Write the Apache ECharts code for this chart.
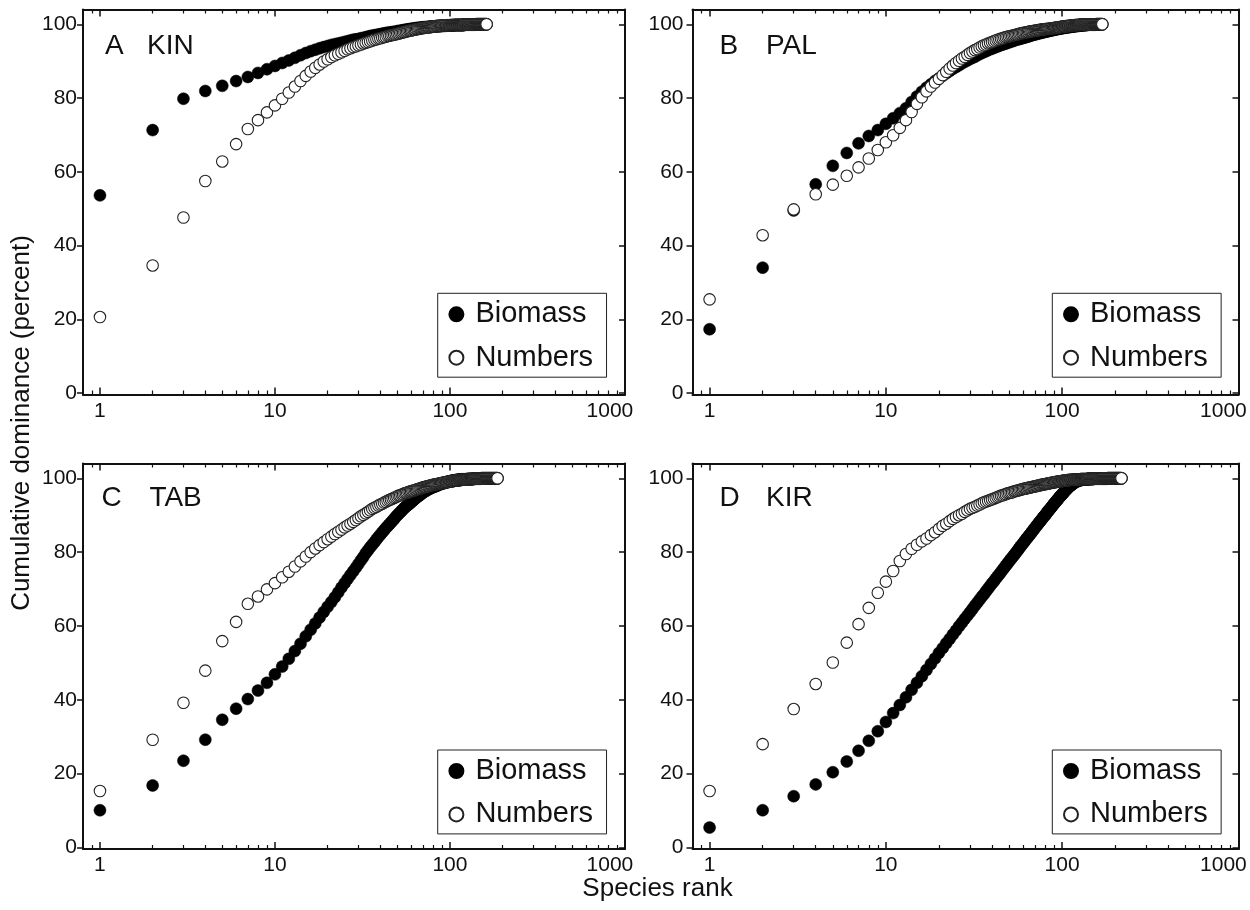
<!DOCTYPE html>
<html><head><meta charset="utf-8">
<script src="https://cdn.jsdelivr.net/npm/echarts@6/dist/echarts.min.js"></script>
<style>html,body{margin:0;padding:0;background:#fff}#c{width:1250px;height:910px}</style>
</head><body><div id="c"></div>
<script>
// ---------------- data ----------------
const panelLetters = ['A', 'B', 'C', 'D'];
const siteNames = ['KIN', 'PAL', 'TAB', 'KIR'];
const seriesNames = ['Biomass', 'Numbers'];
const xTickValues = [1, 10, 100, 1000];
const xTickLabels = ['1', '10', '100', '1000'];
const xMinorTickValues = [0.9, 2, 3, 4, 5, 6, 7, 8, 9, 20, 30, 40, 50, 60, 70, 80, 90, 200, 300, 400, 500, 600, 700, 800, 900];
const yTickValues = [0, 20, 40, 60, 80, 100];
const yTickLabels = ['0', '20', '40', '60', '80', '100'];
const xTitle = 'Species rank';
const yTitle = 'Cumulative dominance (percent)';

// cumulative dominance (%) for species rank 1..N
const kinBiomass = [53.6,71.3,79.8,81.9,83.3,84.6,85.7,86.8,87.8,88.7,
89.5,90.2,90.9,91.6,92.2,92.7,93.1,93.5,93.8,94.1,
94.4,94.6,94.8,95.0,95.2,95.4,95.6,95.8,95.9,96.0,
96.2,96.3,96.5,96.6,96.8,96.9,97.0,97.1,97.2,97.3,
97.4,97.5,97.6,97.7,97.7,97.8,97.9,97.9,98.0,98.1,
98.2,98.2,98.3,98.4,98.4,98.5,98.6,98.6,98.7,98.7,
98.8,98.8,98.9,98.9,99.0,99.0,99.0,99.1,99.1,99.1,
99.2,99.2,99.2,99.2,99.3,99.3,99.3,99.3,99.4,99.4,
99.4,99.4,99.4,99.5,99.5,99.5,99.5,99.5,99.5,99.6,
99.6,99.6,99.6,99.6,99.6,99.7,99.7,99.7,99.7,99.7,
99.7,99.7,99.7,99.7,99.7,99.8,99.8,99.8,99.8,99.8,
99.8,99.8,99.8,99.8,99.8,99.8,99.8,99.8,99.8,99.8,
99.9,99.9,99.9,99.9,99.9,99.9,99.9,99.9,99.9,99.9,
99.9,99.9,99.9,99.9,99.9,99.9,99.9,99.9,99.9,99.9,
100,100,100,100,100,100,100,100,100,100,
100,100,100,100,100,100,100,100,100,100,
100,100];
const kinNumbers = [20.6,34.6,47.6,57.5,62.8,67.5,71.6,74.0,76.1,78.0,
79.8,81.5,83.1,84.6,86.0,87.2,88.2,89.1,89.9,90.5,
91.1,91.6,92.0,92.4,92.8,93.2,93.5,93.8,94.0,94.3,
94.5,94.8,95.0,95.2,95.4,95.6,95.8,95.9,96.1,96.2,
96.4,96.5,96.6,96.8,96.9,97.0,97.1,97.2,97.3,97.4,
97.5,97.6,97.7,97.8,97.9,98.0,98.1,98.2,98.3,98.3,
98.4,98.5,98.5,98.6,98.7,98.7,98.8,98.9,98.9,99.0,
99.0,99.1,99.1,99.1,99.2,99.2,99.3,99.3,99.3,99.4,
99.4,99.4,99.5,99.5,99.5,99.5,99.6,99.6,99.6,99.6,
99.7,99.7,99.7,99.7,99.7,99.7,99.7,99.7,99.7,99.7,
99.8,99.8,99.8,99.8,99.8,99.8,99.8,99.8,99.8,99.8,
99.8,99.8,99.8,99.8,99.8,99.8,99.8,99.8,99.8,99.8,
99.9,99.9,99.9,99.9,99.9,99.9,99.9,99.9,99.9,99.9,
99.9,99.9,99.9,99.9,99.9,99.9,99.9,99.9,99.9,99.9,
100,100,100,100,100,100,100,100,100,100,
100,100,100,100,100,100,100,100,100,100,
100,100];
const palBiomass = [17.3,34.0,49.5,56.6,61.6,65.1,67.7,69.7,71.3,73.0,
74.5,75.9,77.2,78.9,80.4,81.7,82.8,83.7,84.6,85.3,
86.0,86.7,87.3,87.9,88.4,88.9,89.4,89.8,90.2,90.6,
90.9,91.2,91.6,91.9,92.2,92.5,92.7,93.0,93.2,93.4,
93.6,93.8,94.0,94.2,94.4,94.5,94.7,94.8,95.0,95.1,
95.3,95.4,95.5,95.7,95.8,95.9,96.0,96.1,96.2,96.3,
96.4,96.5,96.6,96.7,96.8,96.9,97.0,97.1,97.2,97.3,
97.3,97.4,97.5,97.6,97.6,97.7,97.8,97.8,97.9,98.0,
98.0,98.1,98.1,98.2,98.3,98.3,98.4,98.4,98.5,98.5,
98.6,98.6,98.7,98.7,98.8,98.8,98.8,98.9,98.9,99.0,
99.0,99.0,99.1,99.1,99.1,99.2,99.2,99.2,99.3,99.3,
99.3,99.3,99.4,99.4,99.4,99.4,99.5,99.5,99.5,99.5,
99.6,99.6,99.6,99.6,99.6,99.7,99.7,99.7,99.7,99.7,
99.7,99.8,99.8,99.8,99.8,99.8,99.8,99.8,99.9,99.9,
99.9,99.9,99.9,99.9,99.9,99.9,99.9,99.9,99.9,99.9,
99.9,99.9,99.9,99.9,99.9,100,100,100,100,100,
100,100,100,100,100,100,100,100,100];
const palNumbers = [25.4,42.8,49.8,53.9,56.5,58.9,61.2,63.6,65.9,68.0,
69.9,71.9,74.0,76.2,78.4,80.2,81.8,83.1,84.2,85.2,
86.2,87.1,88.0,88.8,89.5,90.1,90.7,91.2,91.7,92.2,
92.6,93.0,93.3,93.7,94.0,94.3,94.5,94.8,95.0,95.2,
95.4,95.6,95.8,95.9,96.1,96.2,96.4,96.5,96.6,96.7,
96.8,96.9,97.0,97.1,97.2,97.3,97.4,97.5,97.6,97.6,
97.7,97.8,97.8,97.9,98.0,98.0,98.1,98.1,98.2,98.2,
98.3,98.3,98.4,98.4,98.5,98.5,98.6,98.6,98.6,98.7,
98.7,98.7,98.8,98.8,98.8,98.9,98.9,98.9,99.0,99.0,
99.0,99.1,99.1,99.1,99.2,99.2,99.2,99.3,99.3,99.3,
99.4,99.4,99.4,99.4,99.5,99.5,99.5,99.5,99.6,99.6,
99.6,99.6,99.7,99.7,99.7,99.7,99.7,99.8,99.8,99.8,
99.8,99.8,99.8,99.8,99.8,99.9,99.9,99.9,99.9,99.9,
99.9,99.9,99.9,99.9,99.9,99.9,99.9,99.9,99.9,99.9,
99.9,99.9,99.9,99.9,99.9,99.9,99.9,99.9,99.9,99.9,
100,100,100,100,100,100,100,100,100,100,
100,100,100,100,100,100,100,100,100];
const tabBiomass = [10.1,16.8,23.5,29.2,34.6,37.6,40.2,42.5,44.6,46.9,
49.0,51.1,53.2,55.2,57.2,59.0,60.7,62.3,63.8,65.2,
66.5,67.8,69.1,70.4,71.6,72.7,73.8,74.8,75.8,76.8,
77.8,78.7,79.7,80.5,81.3,82.0,82.7,83.4,84.1,84.7,
85.3,85.9,86.5,87.0,87.5,88.0,88.5,89.0,89.5,90.0,
90.4,90.8,91.2,91.6,92.0,92.3,92.6,92.9,93.2,93.5,
93.8,94.1,94.4,94.7,94.9,95.2,95.4,95.6,95.9,96.1,
96.3,96.5,96.6,96.8,97.0,97.1,97.2,97.4,97.5,97.6,
97.7,97.8,97.9,98.0,98.1,98.2,98.3,98.4,98.5,98.6,
98.6,98.7,98.8,98.8,98.9,99.0,99.0,99.1,99.1,99.2,
99.2,99.3,99.3,99.3,99.4,99.4,99.4,99.5,99.5,99.5,
99.6,99.6,99.6,99.6,99.6,99.7,99.7,99.7,99.7,99.7,
99.7,99.7,99.7,99.7,99.7,99.8,99.8,99.8,99.8,99.8,
99.8,99.8,99.8,99.8,99.8,99.9,99.9,99.9,99.9,99.9,
99.9,99.9,99.9,99.9,99.9,99.9,99.9,99.9,99.9,99.9,
100,100,100,100,100,100,100,100,100,100,
100,100,100,100,100,100,100,100,100,100,
100,100,100,100,100,100,100,100,100,100,
100,100,100,100,100,100,100];
const tabNumbers = [15.3,29.2,39.2,47.9,55.9,61.1,66.0,68.0,69.9,71.6,
73.2,74.7,76.1,77.5,78.8,80.0,81.0,81.9,82.7,83.5,
84.2,84.9,85.5,86.1,86.7,87.2,87.7,88.2,88.7,89.2,
89.7,90.1,90.5,90.9,91.3,91.7,92.0,92.3,92.6,92.9,
93.1,93.4,93.6,93.9,94.1,94.3,94.5,94.7,94.9,95.1,
95.3,95.4,95.6,95.7,95.9,96.0,96.1,96.3,96.4,96.5,
96.6,96.7,96.8,96.9,97.0,97.1,97.2,97.3,97.4,97.5,
97.6,97.6,97.7,97.8,97.9,97.9,98.0,98.1,98.1,98.2,
98.3,98.3,98.4,98.4,98.5,98.5,98.6,98.6,98.7,98.7,
98.8,98.8,98.9,98.9,98.9,99.0,99.0,99.0,99.1,99.1,
99.2,99.2,99.2,99.3,99.3,99.3,99.4,99.4,99.4,99.4,
99.5,99.5,99.5,99.5,99.5,99.6,99.6,99.6,99.6,99.6,
99.6,99.6,99.6,99.7,99.7,99.7,99.7,99.7,99.7,99.7,
99.8,99.8,99.8,99.8,99.8,99.8,99.8,99.9,99.9,99.9,
99.9,99.9,99.9,99.9,99.9,99.9,99.9,99.9,99.9,99.9,
99.9,99.9,99.9,99.9,99.9,99.9,99.9,99.9,99.9,99.9,
100,100,100,100,100,100,100,100,100,100,
100,100,100,100,100,100,100,100,100,100,
100,100,100,100,100,100,100];
const kirBiomass = [5.4,10.1,13.9,17.1,20.4,23.3,26.2,28.9,31.5,34.0,
36.4,38.6,40.7,42.7,44.6,46.4,48.1,49.7,51.2,52.7,
54.0,55.3,56.5,57.7,58.8,59.9,60.9,61.9,62.8,63.7,
64.6,65.5,66.3,67.1,67.9,68.6,69.4,70.1,70.8,71.5,
72.1,72.8,73.4,74.0,74.6,75.2,75.8,76.4,76.9,77.5,
78.0,78.5,79.0,79.5,80.0,80.5,81.0,81.5,81.9,82.4,
82.8,83.3,83.7,84.1,84.5,84.9,85.3,85.7,86.1,86.5,
86.9,87.3,87.6,88.0,88.3,88.7,89.0,89.4,89.7,90.0,
90.3,90.7,91.0,91.3,91.6,91.9,92.2,92.5,92.8,93.1,
93.4,93.6,93.9,94.2,94.4,94.7,95.0,95.2,95.4,95.7,
95.9,96.1,96.4,96.6,96.8,97.0,97.2,97.4,97.6,97.8,
97.9,98.1,98.2,98.4,98.5,98.6,98.8,98.9,99.0,99.1,
99.2,99.2,99.3,99.4,99.4,99.5,99.5,99.6,99.6,99.6,
99.7,99.7,99.7,99.7,99.7,99.7,99.7,99.7,99.7,99.7,
99.8,99.8,99.8,99.8,99.8,99.8,99.8,99.8,99.8,99.8,
99.9,99.9,99.9,99.9,99.9,99.9,99.9,99.9,99.9,99.9,
99.9,99.9,99.9,99.9,99.9,99.9,99.9,99.9,99.9,99.9,
99.9,99.9,99.9,99.9,99.9,99.9,99.9,99.9,99.9,99.9,
100,100,100,100,100,100,100,100,100,100,
100,100,100,100,100,100,100,100,100,100,
100,100,100,100,100,100,100,100,100,100,
100,100,100,100,100,100,100];
const kirNumbers = [15.3,28.0,37.5,44.3,50.1,55.5,60.5,64.9,69.0,72.0,
74.9,77.6,79.5,80.9,82.0,82.9,83.7,84.6,85.4,86.3,
87.1,87.7,88.4,89.0,89.5,90.0,90.4,90.9,91.3,91.7,
92.0,92.3,92.6,92.9,93.2,93.5,93.7,93.9,94.1,94.3,
94.5,94.7,94.9,95.1,95.3,95.4,95.6,95.7,95.9,96.0,
96.1,96.2,96.4,96.5,96.6,96.7,96.8,96.9,97.0,97.1,
97.2,97.2,97.3,97.4,97.5,97.5,97.6,97.7,97.7,97.8,
97.9,97.9,98.0,98.1,98.1,98.2,98.3,98.3,98.4,98.4,
98.5,98.5,98.6,98.6,98.7,98.7,98.8,98.8,98.9,98.9,
99.0,99.0,99.0,99.1,99.1,99.1,99.2,99.2,99.2,99.3,
99.3,99.3,99.4,99.4,99.4,99.4,99.5,99.5,99.5,99.5,
99.6,99.6,99.6,99.6,99.6,99.6,99.7,99.7,99.7,99.7,
99.7,99.7,99.7,99.7,99.7,99.7,99.8,99.8,99.8,99.8,
99.8,99.8,99.8,99.8,99.8,99.8,99.8,99.8,99.8,99.8,
99.9,99.9,99.9,99.9,99.9,99.9,99.9,99.9,99.9,99.9,
99.9,99.9,99.9,99.9,99.9,99.9,99.9,99.9,99.9,99.9,
99.9,99.9,99.9,99.9,99.9,99.9,99.9,99.9,99.9,99.9,
100,100,100,100,100,100,100,100,100,100,
100,100,100,100,100,100,100,100,100,100,
100,100,100,100,100,100,100,100,100,100,
100,100,100,100,100,100,100,100,100,100,
100,100,100,100,100,100,100];

const biomassSets = [kinBiomass, palBiomass, tabBiomass, kirBiomass];
const numbersSets = [kinNumbers, palNumbers, tabNumbers, kirNumbers];

// ---------------- layout / style ----------------
const FONT = "'Liberation Sans', Arial, Helvetica, sans-serif";
const INK = '#111';
const X_MIN = 0.8, X_MAX = 1001;
const Y_MIN = -0.4, Y_MAX = 104;
const gridBoxes = [
  {left: 83, top: 9.5, width: 542, height: 385},
  {left: 692.5, top: 9.5, width: 546, height: 385},
  {left: 83, top: 463.5, width: 542, height: 385.5},
  {left: 692.5, top: 463.5, width: 546, height: 385.5}
];
const yLabelMargins = [6, 9, 6, 9];
const letterPos = [[105, 32], [719.6, 32], [101.6, 484], [719.6, 484]];
const namePos = [[147, 32], [766, 32], [149.4, 484], [766, 484]];
const legendPos = [[437.7, 293.3], [1052.3, 293.3], [437.7, 750], [1052.3, 750]];

const chart = echarts.init(document.getElementById('c'), null, {renderer: 'canvas'});
const option = {
  animation: false,
  backgroundColor: '#fff',
  grid: [], xAxis: [], yAxis: [], series: [], legend: [], graphic: []
};

function xAxisBase(i) {
  return {gridIndex: i, type: 'log', logBase: 10, min: X_MIN, max: X_MAX,
    splitLine: {show: false}, minorTick: {show: false}, minorSplitLine: {show: false},
    axisPointer: {show: false}, silent: true};
}

gridBoxes.forEach((g, i) => {
  option.grid.push({left: g.left, top: g.top, width: g.width, height: g.height,
    containLabel: false, outerBoundsMode: 'none', show: false});
  // bottom major (labels)
  option.xAxis.push(Object.assign(xAxisBase(i), {
    position: 'bottom',
    axisLine: {show: true, onZero: false, lineStyle: {color: INK, width: 2}},
    axisTick: {show: true, inside: true, length: 7, customValues: xTickValues, lineStyle: {color: INK, width: 1.5}},
    axisLabel: {show: true, customValues: xTickValues, margin: 6, color: INK, fontSize: 21, fontFamily: FONT,
      formatter: v => {
        const idx = xTickValues.indexOf(Math.round(v));
        const t = idx >= 0 ? xTickLabels[idx] : '';
        return idx === xTickValues.length - 1 ? '{r|' + t + '}' : t;
      },
      rich: {r: {fontSize: 21, fontFamily: FONT, color: INK, padding: [0, 30, 0, 0]}}}
  }));
  // bottom minor
  option.xAxis.push(Object.assign(xAxisBase(i), {
    position: 'bottom', axisLine: {show: false, onZero: false},
    axisTick: {show: true, inside: true, length: 4, customValues: xMinorTickValues, lineStyle: {color: INK, width: 1.2}},
    axisLabel: {show: false}
  }));
  // top major
  option.xAxis.push(Object.assign(xAxisBase(i), {
    position: 'top',
    axisLine: {show: true, onZero: false, lineStyle: {color: INK, width: 2}},
    axisTick: {show: true, inside: true, length: 7, customValues: xTickValues, lineStyle: {color: INK, width: 1.5}},
    axisLabel: {show: false}
  }));
  // top minor
  option.xAxis.push(Object.assign(xAxisBase(i), {
    position: 'top', axisLine: {show: false, onZero: false},
    axisTick: {show: true, inside: true, length: 4, customValues: xMinorTickValues, lineStyle: {color: INK, width: 1.2}},
    axisLabel: {show: false}
  }));
  // left y
  option.yAxis.push({gridIndex: i, type: 'value', min: Y_MIN, max: Y_MAX, position: 'left',
    splitLine: {show: false}, axisPointer: {show: false},
    axisLine: {show: true, onZero: false, lineStyle: {color: INK, width: 2}},
    axisTick: {show: true, inside: false, length: 6, customValues: yTickValues, lineStyle: {color: INK, width: 1.5}},
    axisLabel: {show: true, customValues: yTickValues, margin: yLabelMargins[i], color: INK, fontSize: 21, fontFamily: FONT,
      formatter: v => { const idx = yTickValues.indexOf(Math.round(v)); return idx >= 0 ? yTickLabels[idx] : ''; }}
  });
  // right y
  option.yAxis.push({gridIndex: i, type: 'value', min: Y_MIN, max: Y_MAX, position: 'right',
    splitLine: {show: false}, axisPointer: {show: false},
    axisLine: {show: true, onZero: false, lineStyle: {color: INK, width: 2}},
    axisTick: {show: true, inside: true, length: 6, customValues: yTickValues, lineStyle: {color: INK, width: 1.5}},
    axisLabel: {show: false}
  });

  option.series.push({
    type: 'scatter', name: seriesNames[0], xAxisIndex: i * 4, yAxisIndex: i * 2,
    symbol: 'circle', symbolSize: 12, silent: true,
    itemStyle: {color: '#000', borderColor: '#000', borderWidth: 0.5, opacity: 1},
    emphasis: {disabled: true},
    data: biomassSets[i].map((v, k) => [k + 1, v])
  });
  option.series.push({
    type: 'scatter', name: seriesNames[1], xAxisIndex: i * 4, yAxisIndex: i * 2,
    symbol: 'circle', symbolSize: 11.5, silent: true,
    itemStyle: {color: '#fff', borderColor: '#222', borderWidth: 1.1, opacity: 1},
    emphasis: {disabled: true},
    data: numbersSets[i].map((v, k) => [k + 1, v])
  });

  option.legend.push({
    left: legendPos[i][0], top: legendPos[i][1], orient: 'vertical',
    padding: [6.5, 13.5, 5, 10.7], itemWidth: 28, itemHeight: 14, itemGap: 14.4,
    borderColor: '#222', borderWidth: 1, backgroundColor: '#fff',
    selectedMode: false, data: seriesNames.slice(),
    textStyle: {fontSize: 29, lineHeight: 29, color: INK, fontFamily: FONT}
  });

  option.graphic.push({type: 'text', left: letterPos[i][0], top: letterPos[i][1], silent: true,
    style: {text: panelLetters[i], fontSize: 28, fontFamily: FONT, fill: INK}});
  option.graphic.push({type: 'text', left: namePos[i][0], top: namePos[i][1], silent: true,
    style: {text: siteNames[i], fontSize: 28, fontFamily: FONT, fill: INK}});
});

option.graphic.push({type: 'text', x: 22, y: 423, rotation: Math.PI / 2, silent: true,
  style: {text: yTitle, fontSize: 26, fontFamily: FONT, fill: INK, align: 'center', verticalAlign: 'middle'}});
option.graphic.push({type: 'text', x: 657.5, y: 889, silent: true,
  style: {text: xTitle, fontSize: 26, fontFamily: FONT, fill: INK, align: 'center', verticalAlign: 'middle'}});

chart.setOption(option);
</script></body></html>
